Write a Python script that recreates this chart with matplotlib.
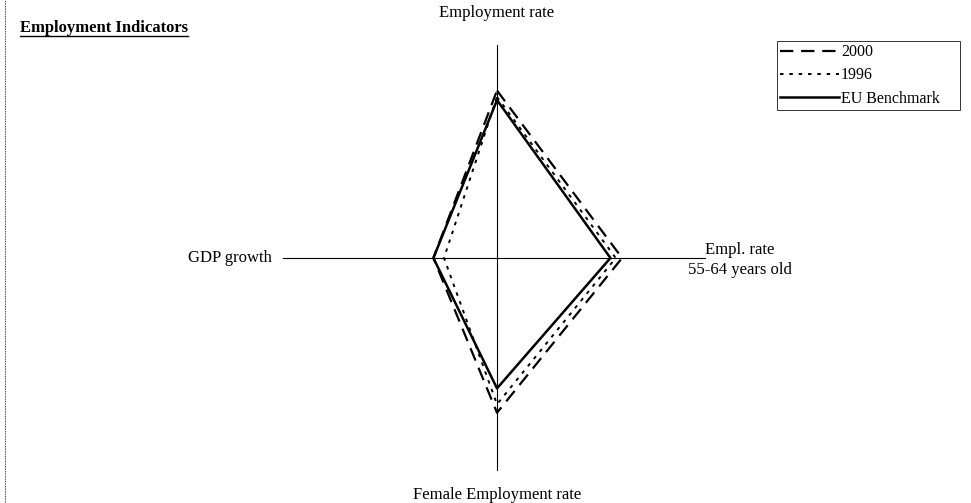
import numpy as np
import matplotlib
matplotlib.use("Agg")
import matplotlib.pyplot as plt
from matplotlib.lines import Line2D

plt.rcParams['font.family'] = ['Liberation Serif', 'DejaVu Serif']

axes_labels = ["Employment rate", "Empl. rate\n55-64 years old",
               "Female Employment rate", "GDP growth"]
series_names = ["2000", "1996", "EU Benchmark"]
values_2000 = [0.79, 0.59, 0.73, 0.30]
values_1996 = [0.76, 0.56, 0.69, 0.25]
values_eu = [0.745, 0.535, 0.615, 0.30]

W, H, DPI = 971, 503, 100
cx, cy, R = 497, 258, 212

fig = plt.figure(figsize=(W / DPI, H / DPI), dpi=DPI)
ax = fig.add_axes([0, 0, 1, 1])
ax.set_xlim(-cx / R, (W - cx) / R)
ax.set_ylim(-(H - cy) / R, cy / R)
ax.axis('off')

# axis lines
ax.plot([0, 0], [-1.0, 1.005], color='black', lw=0.8)
ax.plot([-1.01, 0.98], [0, 0], color='black', lw=0.8)

# directions: up, right, down, left
dirs = np.array([[0, 1], [1, 0], [0, -1], [-1, 0]])

def poly(vals):
    v = np.array(vals)
    pts = dirs * v[:, None]
    pts = np.vstack([pts, pts[:1]])
    return pts[:, 0], pts[:, 1]

styles = [
    dict(color='black', lw=1.6, linestyle=(0, (6, 3.5))),
    dict(color='black', lw=1.4, linestyle=(0, (1.8, 3))),
    dict(color='black', lw=1.8, linestyle='-'),
]
handles = []
for vals, st, name in zip([values_2000, values_1996, values_eu], styles, series_names):
    x, y = poly(vals)
    ln, = ax.plot(x, y, label=name, **st)
    handles.append(ln)

fs = 12
ax.text(0, (cy - 13) / R, axes_labels[0], ha='center', va='center', fontsize=fs)
ax.text((740 - cx) / R, -2 / R, axes_labels[1], ha='center', va='center', fontsize=fs,
        linespacing=1.25)
ax.text(0, -(495 - cy) / R, axes_labels[2], ha='center', va='center', fontsize=fs)
ax.text((272 - cx) / R, 0, axes_labels[3], ha='right', va='center', fontsize=fs)

# title
fig.text(20 / W, 1 - 28 / H, "Employment Indicators", ha='left', va='center',
         fontsize=12, fontweight='bold')
fig.add_artist(Line2D([20 / W, 188 / W], [1 - 36 / H, 1 - 36 / H], color='black', lw=1.0))

# left dotted edge
fig.add_artist(Line2D([5 / W, 5 / W], [0, 1], color='black', lw=0.6, linestyle=(0, (1, 1))))

leg = ax.legend(handles=handles, loc='upper left',
                bbox_to_anchor=(777 / W, 1 - 109 / H, 183 / W, 68 / H),
                bbox_transform=fig.transFigure, mode='expand',
                frameon=True, fancybox=False, fontsize=11.5, handlelength=3.7,
                handletextpad=0.1, borderpad=0.2, labelspacing=0.45,
                borderaxespad=0)
leg.get_frame().set_edgecolor('black')
leg.get_frame().set_linewidth(0.7)

fig.savefig("out.png", dpi=DPI)
